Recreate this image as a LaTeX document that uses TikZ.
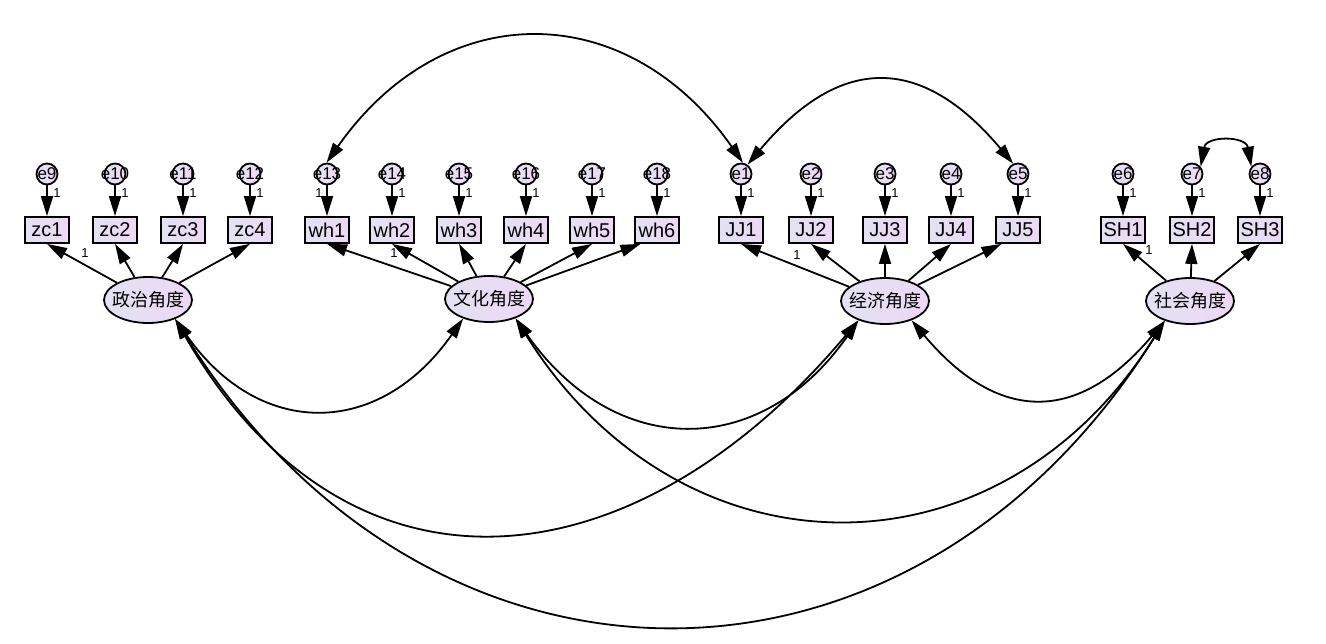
\documentclass[tikz,border=0pt]{standalone}
\usepackage{fontspec}
\setmainfont{Liberation Sans}
\newfontfamily\cjkfont{Noto Sans CJK SC}
\usetikzlibrary{arrows.meta, shapes.geometric}
\definecolor{shadeleft}{RGB}{226,226,242}
\definecolor{shaderight}{RGB}{238,216,245}

\begin{document}
\begin{tikzpicture}[x=1pt, y=1pt, line width=1.8pt,
  arr/.style={-{Triangle[length=20pt,width=12pt]}},
  cov/.style={{Triangle[length=20pt,width=12pt]}-{Triangle[length=20pt,width=12pt]}},
  obs/.style={draw, rectangle, left color=shadeleft, right color=shaderight, minimum width=44pt, minimum height=26pt, inner sep=0pt, font=\fontsize{20}{20}\selectfont},
  err/.style={draw, circle, left color=shadeleft, right color=shaderight, minimum size=21pt, inner sep=0pt, font=\fontsize{17}{17}\selectfont},
  lat/.style={draw, ellipse, left color=shadeleft, right color=shaderight, minimum width=88pt, minimum height=46pt, inner sep=0pt, font=\cjkfont\fontsize{18}{18}\selectfont},
  one/.style={inner sep=0pt, font=\fontsize{13}{13}\selectfont}]
  \useasboundingbox (0,0) rectangle (1326,-643);

  % Latent factors
  \node[lat] (ZZ) at (148,-300) {\makebox[0pt]{政治角度}};
  \node[lat] (WH) at (489,-299) {\makebox[0pt]{文化角度}};
  \node[lat] (JJ) at (885,-301) {\makebox[0pt]{经济角度}};
  \node[lat] (SH) at (1190,-301) {\makebox[0pt]{社会角度}};

  % Indicators with their errors
  \foreach \x/\ob/\er/\lx in {47/zc1/e9/57, 115/zc2/e10/125, 183/zc3/e11/193, 250/zc4/e12/260,
      327/wh1/e13/319, 392/wh2/e14/402, 459/wh3/e15/469, 526/wh4/e16/536, 592/wh5/e17/602, 657/wh6/e18/667,
      741/JJ1/e1/751, 811/JJ2/e2/821, 885/JJ3/e3/895, 951/JJ4/e4/961, 1018/JJ5/e5/1028,
      1123/SH1/e6/1133, 1192/SH2/e7/1202, 1260/SH3/e8/1270}{
    \node[obs] (\ob) at (\x,-230) {\ob};
    \node[err] (\er) at (\x,-174) {\makebox[0pt]{\er}};
    \node[one] (w\er) at (\lx,-193) {1};
    \draw[arr] (\er) -- (\ob);
  }

  % Loadings
  \foreach \ob in {zc1,zc2,zc3,zc4} \draw[arr] (ZZ) -- (\ob.south);
  \foreach \ob in {wh1,wh2,wh3,wh4,wh5} \draw[arr] (WH) -- (\ob.south);
  \draw[arr] (WH) -- (wh6.-140);
  \foreach \ob in {JJ1,JJ2,JJ3,JJ4} \draw[arr] (JJ) -- (\ob.south);
  \draw[arr] (JJ) -- (JJ5.-140);
  \foreach \ob in {SH1,SH2,SH3} \draw[arr] (SH) -- (\ob.south);
  \node[one] (fixZZ) at (85,-253) {1};
  \node[one] (fixWH) at (394,-253) {1};
  \node[one] (fixJJ) at (797,-255) {1};
  \node[one] (fixSH) at (1149,-250) {1};

  % Covariances between factors
  \draw[cov] (ZZ.-35) to[out=-55, in=-125, looseness=1.3] (WH.-143);
  \draw[cov] (WH.-36) to[out=-55, in=-125, looseness=1.28] (JJ.-144);
  \draw[cov] (ZZ.-35) to[out=-60, in=-130, looseness=1.3] (JJ.-144);
  \draw[cov] (WH.-36) to[out=-58, in=-122, looseness=1.23] (SH.-142);
  \draw[cov] (ZZ.-35) to[out=-58, in=-122, looseness=1.24] (SH.-142);
  \draw[cov] (JJ.-36) to[out=-50, in=-130, looseness=1.36] (SH.-142);

  % Covariances between errors
  \draw[cov] (e13.92) to[out=55, in=125, looseness=1.25] (e1.80);
  \draw[cov] (e1.55) to[out=50, in=130, looseness=1.38] (e5.115);
  \draw[cov] (e7.40) to[out=80, in=100, looseness=1.6] (e8.140);
\end{tikzpicture}
\end{document}
